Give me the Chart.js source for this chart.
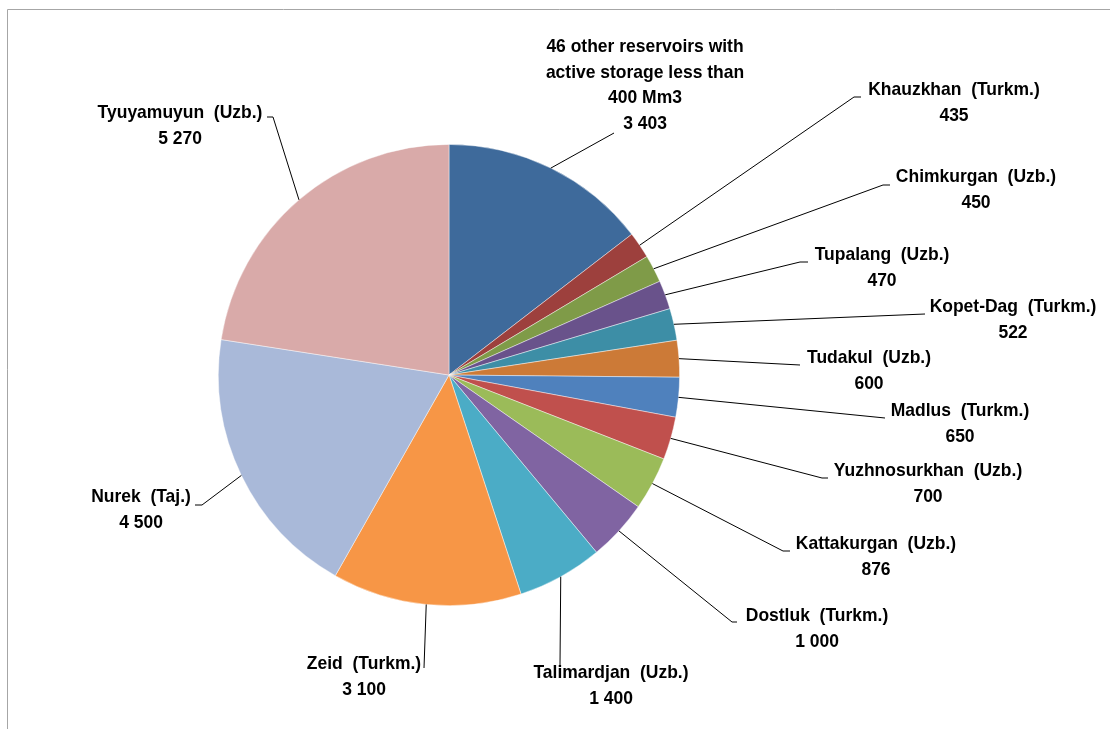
<!DOCTYPE html>
<html>
<head>
<meta charset="utf-8">
<script src="https://cdn.jsdelivr.net/npm/chart.js@4/dist/chart.umd.min.js"></script>
<style>
html,body{margin:0;padding:0;background:#fff;overflow:hidden;}
#wrap{width:1110px;height:729px;position:relative;}
</style>
</head>
<body>
<div id="wrap"><canvas id="c" width="1110" height="729"></canvas></div>
<script>
const categories = [
  "46 other reservoirs with|active storage less than|400 Mm3",
  "Khauzkhan  (Turkm.)",
  "Chimkurgan  (Uzb.)",
  "Tupalang  (Uzb.)",
  "Kopet-Dag  (Turkm.)",
  "Tudakul  (Uzb.)",
  "Madlus  (Turkm.)",
  "Yuzhnosurkhan  (Uzb.)",
  "Kattakurgan  (Uzb.)",
  "Dostluk  (Turkm.)",
  "Talimardjan  (Uzb.)",
  "Zeid  (Turkm.)",
  "Nurek  (Taj.)",
  "Tyuyamuyun  (Uzb.)"
];
const storage = [3403, 435, 450, 470, 522, 600, 650, 700, 876, 1000, 1400, 3100, 4500, 5270];
const sliceColors = [
  "#3E6A9B", "#9D403D", "#7F9B48", "#69528B", "#3D8EA6", "#CC7A37",
  "#4F81BD", "#C0504D", "#9BBB59", "#8064A2", "#4BACC6", "#F79646",
  "#A9B9D9", "#D9AAA9"
];
// label layout: [centerX, firstLineCenterY]
const labelPos = [
  [645, 47], [954, 90], [976, 177], [882, 255], [1013, 307], [869, 358],
  [960, 411], [928, 471], [876, 544], [817, 616], [611, 673], [364, 664],
  [141, 497], [180, 113]
];
// leader line waypoints after leaving the slice edge
const leaderPts = [
  [[614, 133]],
  [[854, 97], [861, 97]],
  [[883, 185], [890, 185]],
  [[800, 262], [808, 262]],
  [[925, 314]],
  [[800, 365]],
  [[885, 418]],
  [[822, 478], [828, 478]],
  [[783, 551], [790, 551]],
  [[732, 622], [737, 622]],
  [[560, 665]],
  [[424, 668]],
  [[202, 505], [195, 505]],
  [[273, 117], [267, 117]]
];

function fmt(v){ return String(v).replace(/\B(?=(\d{3})+(?!\d))/g, " "); }

const FONT = 'bold 18.5px "Liberation Sans Narrow", "Arial Narrow", "Liberation Sans", Arial, sans-serif';
const SCALE_X = 0.945;
const LINE_H = 25.7;

const labelPlugin = {
  id: 'labels',
  beforeDraw(chart){
    const ctx = chart.ctx;
    ctx.save();
    ctx.strokeStyle = '#A6A6A6';
    ctx.lineWidth = 1;
    ctx.beginPath();
    ctx.moveTo(7.5, 740); ctx.lineTo(7.5, 9.5); ctx.lineTo(1120, 9.5);
    ctx.stroke();
    ctx.restore();
  },
  afterDatasetsDraw(chart){
    const ctx = chart.ctx;
    const meta = chart.getDatasetMeta(0);
    ctx.save();
    meta.data.forEach((arc, i) => {
      const mid = (arc.startAngle + arc.endAngle) / 2;
      const sx = arc.x + Math.cos(mid) * arc.outerRadius;
      const sy = arc.y + Math.sin(mid) * arc.outerRadius;
      ctx.strokeStyle = '#000';
      ctx.lineWidth = 1;
      ctx.beginPath();
      ctx.moveTo(sx, sy);
      leaderPts[i].forEach(p => ctx.lineTo(p[0], p[1]));
      ctx.stroke();
      const lines = categories[i].split('|').concat([fmt(chart.data.datasets[0].data[i])]);
      ctx.fillStyle = '#000';
      ctx.font = FONT;
      ctx.textAlign = 'center';
      ctx.textBaseline = 'middle';
      lines.forEach((t, k) => {
        ctx.save();
        ctx.translate(labelPos[i][0], labelPos[i][1] + k * LINE_H);
        ctx.scale(SCALE_X, 1);
        ctx.fillText(t, 0, 0);
        ctx.restore();
      });
    });
    ctx.restore();
  }
};

new Chart(document.getElementById('c'), {
  type: 'pie',
  data: {
    labels: categories,
    datasets: [{
      data: storage,
      backgroundColor: sliceColors,
      borderColor: 'rgba(255,255,255,0.55)',
      borderWidth: 0.8
    }]
  },
  options: {
    responsive: false,
    animation: false,
    layout: { padding: { left: 218, right: 430, top: 144, bottom: 123 } },
    plugins: {
      legend: { display: false },
      tooltip: { enabled: false },
      title: { display: false }
    }
  },
  plugins: [labelPlugin]
});
</script>
</body>
</html>
